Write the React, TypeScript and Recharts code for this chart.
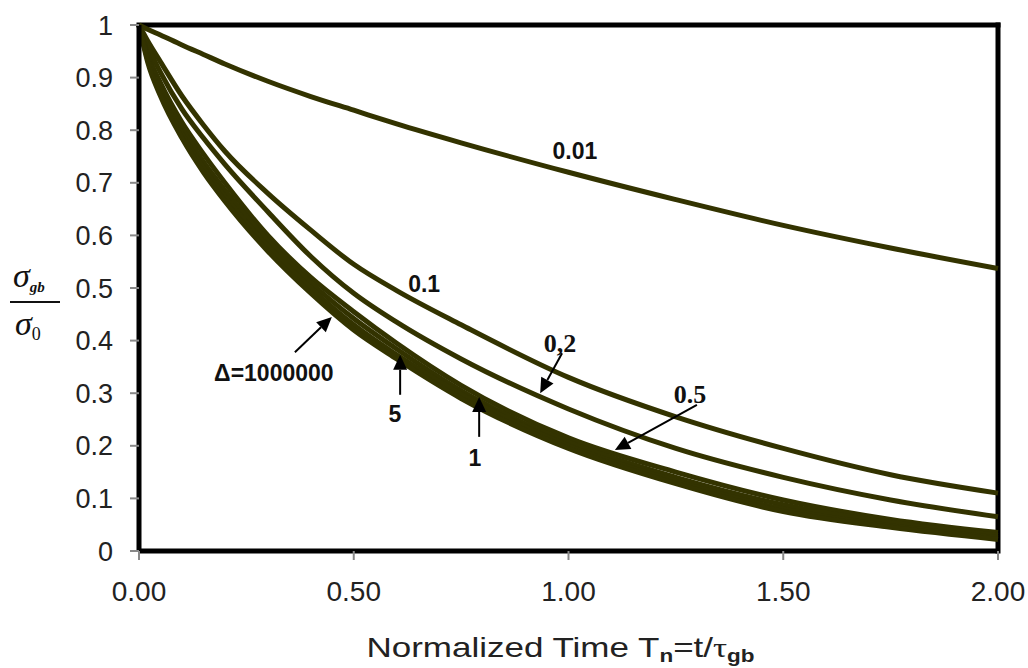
import React from 'react';
import { LineChart, Line, XAxis, YAxis, ReferenceLine, ReferenceDot } from 'recharts';

const tValues = [0, 0.02, 0.05, 0.1, 0.15, 0.2, 0.3, 0.4, 0.5, 0.6, 0.75, 1.0, 1.25, 1.5, 1.75, 2.0];
const d001 = [1, 0.992, 0.981, 0.962, 0.944, 0.926, 0.893, 0.864, 0.838, 0.812, 0.776, 0.72, 0.668, 0.619, 0.576, 0.537];
const d01 = [1, 0.97, 0.93, 0.865, 0.81, 0.76, 0.68, 0.61, 0.545, 0.495, 0.43, 0.33, 0.255, 0.195, 0.145, 0.11];
const d02 = [1, 0.96, 0.91, 0.84, 0.785, 0.735, 0.645, 0.56, 0.49, 0.435, 0.365, 0.27, 0.195, 0.14, 0.097, 0.065];
const d05 = [1, 0.945, 0.89, 0.815, 0.755, 0.7, 0.6, 0.52, 0.455, 0.395, 0.315, 0.215, 0.15, 0.097, 0.06, 0.035];
const d1 = [1, 0.94, 0.88, 0.803, 0.74, 0.686, 0.59, 0.51, 0.442, 0.384, 0.305, 0.207, 0.14, 0.088, 0.054, 0.03];
const d5 = [1, 0.935, 0.872, 0.793, 0.729, 0.674, 0.58, 0.5, 0.43, 0.373, 0.298, 0.2, 0.133, 0.08, 0.048, 0.025];
const d1e6 = [1, 0.93, 0.865, 0.785, 0.72, 0.665, 0.57, 0.49, 0.42, 0.365, 0.29, 0.195, 0.128, 0.075, 0.045, 0.022];

const xTicks = [0, 0.5, 1, 1.5, 2];
const yTicks = [0, 0.1, 0.2, 0.3, 0.4, 0.5, 0.6, 0.7, 0.8, 0.9, 1];

const seriesKeys = ['d001', 'd01', 'd02', 'd05', 'd1', 'd5', 'd1e6'];
const seriesVals = [d001, d01, d02, d05, d1, d5, d1e6];

const data = tValues.map((t, i) => {
  const row: any = { T: t };
  seriesKeys.forEach((k, j) => (row[k] = seriesVals[j][i]));
  return row;
});

// annotation labels: [text, T, value, font]
const curveLabels: [string, number, number, string][] = [
  ['0.01', 1.015, 0.76, 'sans'],
  ['0.1', 0.664, 0.508, 'sans'],
  ['\u0394=1000000', 0.314, 0.338, 'sans'],
  ['5', 0.596, 0.26, 'sans'],
  ['1', 0.782, 0.177, 'sans'],
  ['0,2', 0.98, 0.395, 'serif'],
  ['0.5', 1.283, 0.297, 'serif'],
];

// arrows: [T1, v1, T2 (tip), v2 (tip)]
const arrows: [number, number, number, number][] = [
  [0.363, 0.378, 0.449, 0.445],
  [0.608, 0.297, 0.608, 0.373],
  [0.792, 0.217, 0.792, 0.293],
  [0.985, 0.376, 0.934, 0.3],
  [1.299, 0.278, 1.108, 0.192],
];

const COLOR = '#333300';

const Arrow = (p: any) => {
  const { x1, y1, x2, y2 } = p;
  const dx = x2 - x1;
  const dy = y2 - y1;
  const len = Math.sqrt(dx * dx + dy * dy) || 1;
  const ux = dx / len;
  const uy = dy / len;
  const hl = 15;
  const hw = 7;
  const bx = x2 - ux * hl;
  const by = y2 - uy * hl;
  const pts = `${x2},${y2} ${bx - uy * hw},${by + ux * hw} ${bx + uy * hw},${by - ux * hw}`;
  return (
    <g>
      <line x1={x1} y1={y1} x2={bx} y2={by} stroke="#000" strokeWidth={2} />
      <polygon points={pts} fill="#000" />
    </g>
  );
};

const makeLabel = (text: string, font: string) => (p: any) => (
  <text
    x={p.cx}
    y={p.cy}
    textAnchor="middle"
    dominantBaseline="central"
    fontFamily={font === 'serif' ? 'Liberation Serif' : 'Liberation Sans'}
    fontWeight="bold"
    fontSize={font === 'serif' ? 26 : 23}
    fill="#111"
  >
    {text}
  </text>
);

const YTitle = () => (
  <g fill="#111">
    <text x={5} y={279} fontFamily="Liberation Serif" fontStyle="italic" fontSize={34}>
      {'\u03c3'}
      <tspan fontSize={15} fontWeight="bold" dy={5}>gb</tspan>
    </text>
    <line x1={2} y1={294} x2={52} y2={294} stroke="#111" strokeWidth={2} />
    <text x={7} y={327} fontFamily="Liberation Serif" fontStyle="italic" fontSize={34}>
      {'\u03c3'}
      <tspan fontSize={18} fontStyle="normal" dy={5}>0</tspan>
    </text>
  </g>
);

const XTitle = (p: any) => {
  const vb = p.viewBox || { x: 131, y: 543, width: 859 };
  const cx = vb.x + vb.width / 2 - 8;
  return (
    <text
      transform={`translate(${cx},${vb.y + 106}) scale(1.25,1)`}
      x={0}
      y={0}
      textAnchor="middle"
      fontFamily="Liberation Sans"
      fontSize={28}
      fill="#222"
    >
      Normalized Time T
      <tspan fontSize={18} fontWeight="bold" dy={5}>n</tspan>
      <tspan dy={-5}>=t/</tspan>
      <tspan fontFamily="Liberation Serif">{'\u03c4'}</tspan>
      <tspan fontSize={18} fontWeight="bold" dy={5}>gb</tspan>
    </text>
  );
};

export default function App() {
  return (
    <div style={{ position: 'absolute', left: 8, top: 8, width: 1020, height: 660 }}>
      <LineChart
        width={1020}
        height={660}
        data={data}
        margin={{ top: 17, right: 30, bottom: 8, left: 0 }}
      >
        <XAxis
          dataKey="T"
          type="number"
          domain={[0, 2]}
          ticks={xTicks}
          tickFormatter={(v: number) => v.toFixed(2)}
          height={109}
          axisLine={{ stroke: '#000', strokeWidth: 5 }}
          tickLine={{ stroke: '#888', strokeWidth: 2 }}
          tickSize={9}
          tickMargin={21}
          tick={{ fontSize: 28, fill: '#222', fontFamily: 'Liberation Sans' }}
          interval={0}
          label={<XTitle />}
        />
        <YAxis
          type="number"
          domain={[0, 1]}
          ticks={yTicks}
          tickFormatter={(v: number) => String(Math.round(v * 10) / 10)}
          width={131}
          axisLine={{ stroke: '#000', strokeWidth: 5 }}
          tickLine={{ stroke: '#888', strokeWidth: 2 }}
          tickSize={9}
          tickMargin={17}
          tick={{ fontSize: 27, fill: '#222', fontFamily: 'Liberation Sans' }}
          interval={0}
          label={<YTitle />}
        />
        <ReferenceLine y={1} stroke="#000" strokeWidth={5} strokeLinecap="square" />
        <ReferenceLine x={2} stroke="#000" strokeWidth={5} strokeLinecap="square" />
        {seriesKeys.map((k) => (
          <Line
            key={k}
            dataKey={k}
            type="monotone"
            stroke={COLOR}
            strokeWidth={5}
            dot={false}
            activeDot={false}
            isAnimationActive={false}
          />
        ))}
        {arrows.map((a, i) => (
          <ReferenceLine
            key={'a' + i}
            segment={[
              { x: a[0], y: a[1] },
              { x: a[2], y: a[3] },
            ]}
            shape={Arrow}
            ifOverflow="visible"
          />
        ))}
        {curveLabels.map((l, i) => (
          <ReferenceDot
            key={'l' + i}
            x={l[1]}
            y={l[2]}
            r={0}
            shape={makeLabel(l[0], l[3])}
            ifOverflow="visible"
          />
        ))}
      </LineChart>
    </div>
  );
}
